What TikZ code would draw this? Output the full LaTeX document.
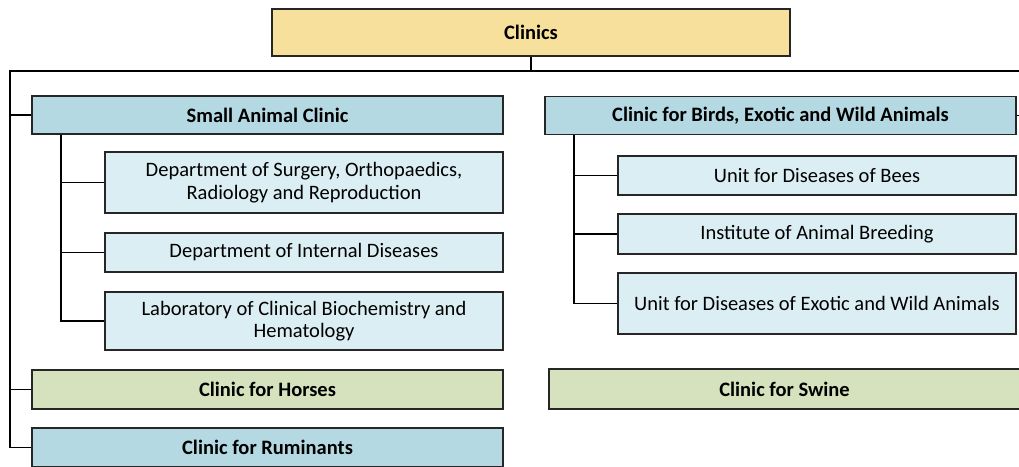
\documentclass[tikz,border=0pt]{standalone}
\usepackage{fontspec}
\setmainfont{Carlito}
\definecolor{cyel}{HTML}{F6E09B}
\definecolor{cblue}{HTML}{B4D9E3}
\definecolor{clblue}{HTML}{DBEEF3}
\definecolor{cgreen}{HTML}{D5E2BD}
\definecolor{cedge}{HTML}{262626}
\tikzset{
  box/.style={draw=cedge, line width=1.1pt, rectangle, inner sep=0pt, align=center,
    font=\fontsize{20.5}{22.5}\selectfont, text=black},
  topbox/.style={box, fill=cyel, font=\fontsize{20.5}{22.5}\selectfont\bfseries},
  clinicbox/.style={box, fill=cblue, font=\fontsize{20.5}{22.5}\selectfont\bfseries, minimum width=471pt, minimum height=38pt},
  greenbox/.style={box, fill=cgreen, font=\fontsize{20.5}{22.5}\selectfont\bfseries, minimum width=471pt, minimum height=39pt},
  unitbox/.style={box, fill=clblue, minimum width=398pt},
  conn/.style={draw=black, line width=1.2pt}
}
\begin{document}
\begin{tikzpicture}[x=1pt,y=-1pt]
\useasboundingbox (0,0) rectangle (1019,466);
\clip (0,0) rectangle (1019,466);
\node[topbox, minimum width=518pt, minimum height=47pt] (clinics) at (531,32.5) {Clinics};
\node[clinicbox] (sac) at (267.5,115) {Small Animal Clinic};
\node[clinicbox] (birds) at (780.5,115.5) {Clinic for Birds, Exotic and Wild Animals};
\node[unitbox, minimum height=61pt] (surg) at (304,182.5) {Department of Surgery, Orthopaedics,\\Radiology and Reproduction};
\node[unitbox, minimum height=39pt] (internal) at (304,252.5) {Department of Internal Diseases};
\node[unitbox, minimum height=58pt] (lab) at (304,321) {Laboratory of Clinical Biochemistry and\\Hematology};
\node[unitbox, minimum height=39pt] (bees) at (817,175.5) {Unit for Diseases of Bees};
\node[unitbox, minimum height=40pt] (breeding) at (817,234) {Institute of Animal Breeding};
\node[unitbox, minimum height=61pt] (exotic) at (817,303.5) {Unit for Diseases of Exotic and Wild Animals};
\node[greenbox] (horses) at (267.5,389.5) {Clinic for Horses};
\node[clinicbox, minimum height=39pt] (rumin) at (267.5,447.5) {Clinic for Ruminants};
\node[greenbox, minimum height=40pt] (swine) at (784.5,389) {Clinic for Swine};
\coordinate (busL) at (10,71);
\coordinate (busR) at (1040,71);
\coordinate (busM) at (531,71);
\coordinate (leftEnd) at (10,447.5);
\coordinate (rightB) at (1040,115.5);
\coordinate (rightS) at (1040,389);
% main bus
\draw[conn] (clinics.south) -- (busM);
\draw[conn] (busR) -- (busL) -- (leftEnd) -- (rumin.west);
\draw[conn] (sac.west) -- (sac.west -| busL);
\draw[conn] (horses.west) -- (horses.west -| busL);
\draw[conn] (birds.east) -- (rightB);
\draw[conn] (swine.east) -- (rightS);
% small animal units
\draw[conn] (sac.south -| 61,0) |- (lab.west);
\draw[conn] (surg.west) -- (surg.west -| 61,0);
\draw[conn] (internal.west) -- (internal.west -| 61,0);
% birds units
\draw[conn] (birds.south -| 574,0) |- (exotic.west);
\draw[conn] (bees.west) -- (bees.west -| 574,0);
\draw[conn] (breeding.west) -- (breeding.west -| 574,0);
\end{tikzpicture}
\end{document}
